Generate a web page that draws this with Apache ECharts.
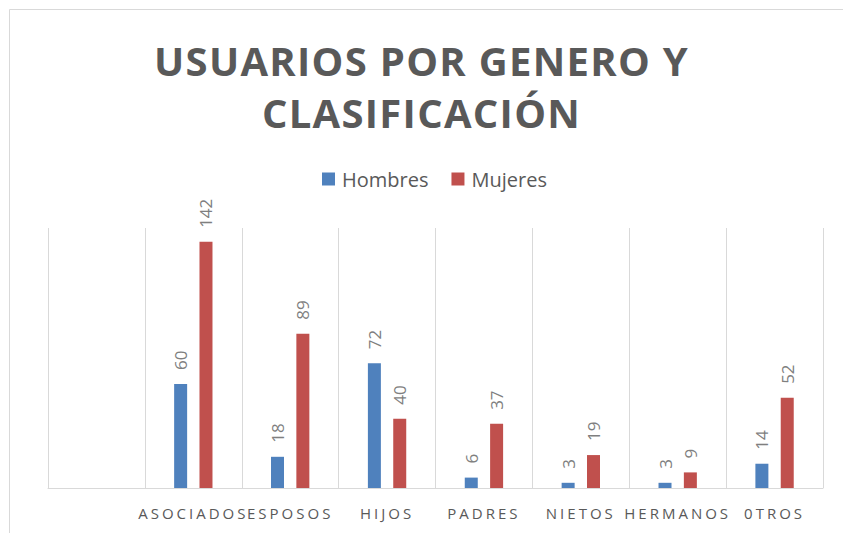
<!DOCTYPE html>
<html>
<head>
<meta charset="utf-8">
<script src="https://cdn.jsdelivr.net/npm/echarts@6/dist/echarts.min.js"></script>
<style>
  html, body { margin: 0; padding: 0; background: #fff; }
  #main { width: 843px; height: 533px; }
</style>
</head>
<body>
<div id="main"></div>
<script>
var categories = ['', 'ASOCIADOS', 'ESPOSOS', 'HIJOS', 'PADRES', 'NIETOS', 'HERMANOS', '0TROS'];
var hombres = [null, 60, 18, 72, 6, 3, 3, 14];
var mujeres = [null, 142, 89, 40, 37, 19, 9, 52];
var titleLines = ['USUARIOS POR GENERO Y', 'CLASIFICACIÓN'];

var chart = echarts.init(document.getElementById('main'), null, { renderer: 'svg' });

var valueLabel = {
  show: true,
  position: 'top',
  rotate: 90,
  align: 'left',
  verticalAlign: 'middle',
  distance: 14,
  color: '#7f7f7f',
  fontFamily: 'Open Sans',
  fontSize: 17
};

var option = {
  animation: false,
  graphic: [
    {
      type: 'rect',
      shape: { x: 9.5, y: 9.5, width: 900, height: 600 },
      style: { fill: 'none', stroke: '#d9d9d9', lineWidth: 1 }
    }
  ],
  title: {
    text: titleLines.join('\n'),
    left: 'center',
    top: 29,
    textStyle: {
      color: '#595959',
      fontFamily: 'Open Sans',
      fontWeight: 'bold',
      fontSize: 40,
      lineHeight: 52
    }
  },
  legend: {
    data: ['Hombres', 'Mujeres'],
    top: 164,
    left: 317,
    itemWidth: 13,
    itemHeight: 13,
    itemGap: 23,
    icon: 'rect',
    textStyle: {
      color: '#595959',
      fontFamily: 'Open Sans',
      fontSize: 20,
      padding: [0, 0, 0, 2]
    }
  },
  grid: {
    left: 48,
    right: 20,
    top: 228,
    bottom: 45
  },
  xAxis: {
    type: 'category',
    data: categories,
    axisLine: { lineStyle: { color: '#d9d9d9' } },
    axisTick: { show: false },
    splitLine: { show: true, lineStyle: { color: '#d9d9d9' } },
    axisLabel: {
      interval: 0,
      margin: 17,
      color: '#595959',
      fontFamily: 'Open Sans',
      fontSize: 15
    }
  },
  yAxis: {
    type: 'value',
    min: 0,
    max: 150,
    show: false,
    splitLine: { show: false }
  },
  series: [
    {
      name: 'Hombres',
      type: 'bar',
      data: hombres,
      barWidth: 13,
      barGap: '95%',
      itemStyle: { color: '#4f81bd' },
      label: valueLabel
    },
    {
      name: 'Mujeres',
      type: 'bar',
      data: mujeres,
      barWidth: 13,
      itemStyle: { color: '#c0504d' },
      label: valueLabel
    }
  ]
};

chart.setOption(option);

// spaced lettering like the original (axis labels and title)
var texts = document.querySelectorAll('#main text');
for (var i = 0; i < texts.length; i++) {
  var t = texts[i].textContent;
  if (t && categories.indexOf(t) > 0) {
    texts[i].style.letterSpacing = '3px';
  } else if (titleLines.indexOf(t) >= 0) {
    texts[i].style.letterSpacing = '1.3px';
  }
}
</script>
</body>
</html>
